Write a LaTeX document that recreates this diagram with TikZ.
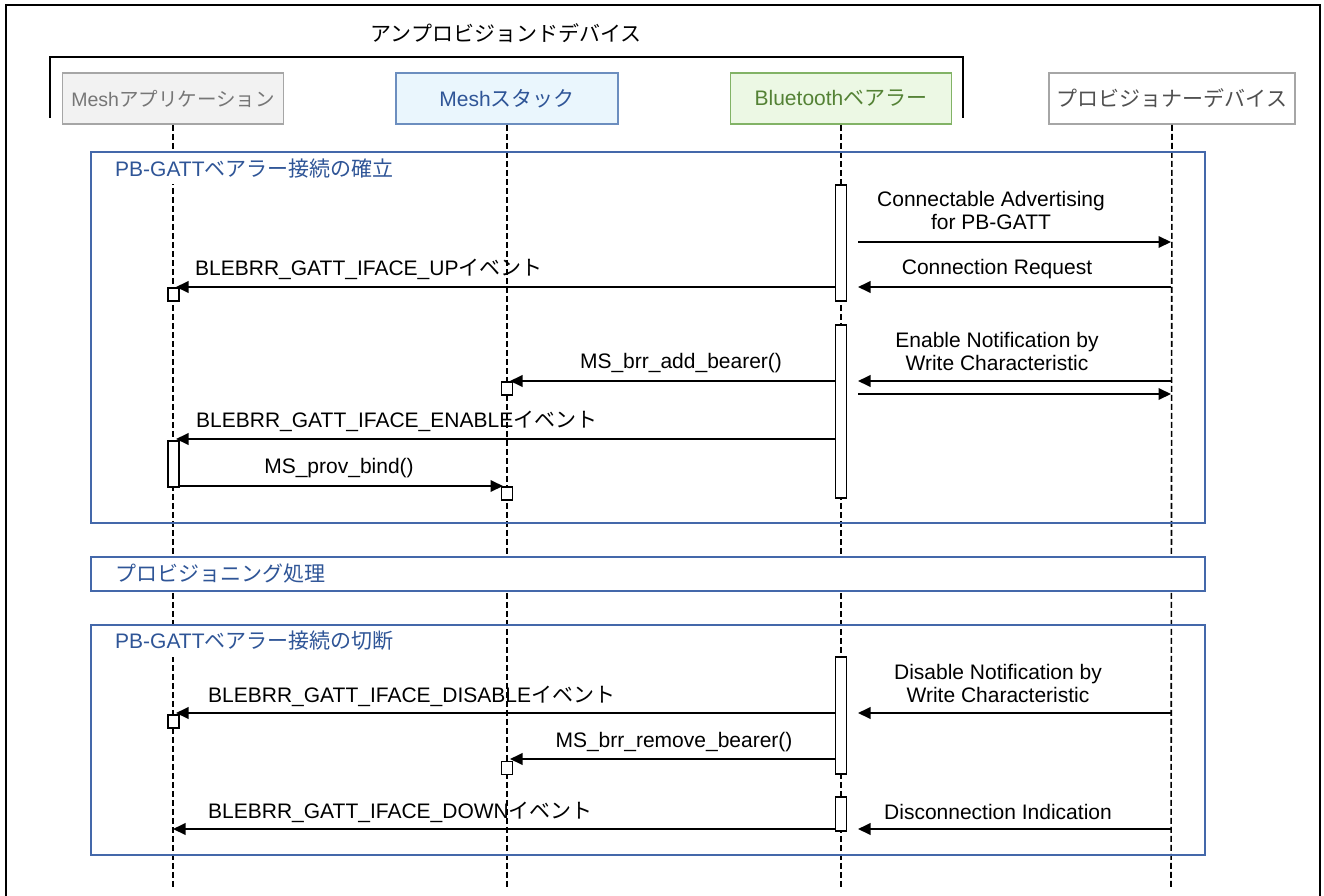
\documentclass[tikz,border=0pt]{standalone}
\usepackage{fontspec}
\setmainfont{Liberation Sans}
\newfontfamily\jpfont{Noto Sans CJK JP}
\newcommand{\jp}[1]{{\jpfont #1}}
\usetikzlibrary{arrows.meta}
\definecolor{grpblue}{RGB}{68,104,170}
\definecolor{ttlblue}{RGB}{47,85,151}
\definecolor{appfill}{RGB}{242,242,242}
\definecolor{appdraw}{RGB}{166,166,166}
\definecolor{apptext}{RGB}{118,118,118}
\definecolor{stkfill}{RGB}{234,246,253}
\definecolor{stkdraw}{RGB}{108,142,191}
\definecolor{stktext}{RGB}{47,85,151}
\definecolor{btfill}{RGB}{236,248,228}
\definecolor{btdraw}{RGB}{130,179,102}
\definecolor{bttext}{RGB}{84,130,53}
\definecolor{pvtext}{RGB}{80,80,80}
\tikzset{
  head/.style={draw, line width=1.8pt, minimum height=51pt, inner sep=0pt},
  life/.style={line width=1.6pt, dash pattern=on 6pt off 3pt},
  grp/.style={draw=grpblue, line width=2pt},
  grptitle/.style={fill=white, text=ttlblue, inner xsep=22pt, inner ysep=0pt, minimum height=31pt, anchor=west},
  actbar/.style={draw, fill=white, line width=1.8pt, minimum width=11pt, inner sep=0pt},
  msg/.style={line width=1.9pt, -{Triangle[length=12.5pt,width=11.5pt]}},
  lbl/.style={inner sep=0pt, align=center},
}
\begin{document}
\begin{tikzpicture}[x=1pt,y=-1pt,font=\fontsize{21}{23}\selectfont]
\useasboundingbox (0,0) rectangle (1324,896);
% outer frame
\coordinate (fr1) at (6,900);
\coordinate (fr2) at (6,5);
\coordinate (fr3) at (1320,5);
\coordinate (fr4) at (1320,900);
\draw[line width=2.4pt] (fr1) -- (fr2) -- (fr3) -- (fr4);
% bracket for unprovisioned device
\node (dev) at (506,33) {\jp{アンプロビジョンドデバイス}};
\coordinate (br1) at (50,118);
\coordinate (br2) at (50,57);
\coordinate (br3) at (963,57);
\coordinate (br4) at (963,118);
\draw[line width=2.8pt] (br1) -- (br2) -- (br3) -- (br4);
% heads
\node[head, fill=appfill, draw=appdraw, text=apptext, minimum width=221pt, font=\fontsize{19.5}{23}\selectfont] (ma) at (173,98.5) {Mesh\jp{アプリケーション}};
\node[head, fill=stkfill, draw=stkdraw, text=stktext, minimum width=222pt] (ms) at (507,98.5) {Mesh\jp{スタック}};
\node[head, fill=btfill, draw=btdraw, text=bttext, minimum width=221pt] (bt) at (841,98.5) {Bluetooth\jp{ベアラー}};
\node[head, fill=white, draw=appdraw, text=pvtext, minimum width=246pt] (pv) at (1172,98.5) {\jp{プロビジョナーデバイス}};
% lifelines
\coordinate (ma-e) at (173,888);
\coordinate (ms-e) at (507,888);
\coordinate (bt-e) at (841,888);
\coordinate (pv-e) at (1171,888);
\draw[life] (ma) -- (ma-e);
\draw[life] (ms) -- (ms-e);
\draw[life] (bt) -- (bt-e);
\draw[life] (pv) -- (pv-e);
% groups
\draw[grp] (91,152) rectangle (1205,523);
\node[grptitle] (g1t) at (93,169) {PB-GATT\jp{ベアラー接続の確立}};
\draw[grp, fill=white] (91,557) rectangle (1205,591);
\node[grptitle, fill=none] (g2t) at (93,574) {\jp{プロビジョニング処理}};
\draw[grp] (91,625) rectangle (1205,855);
\node[grptitle] (g3t) at (93,641) {PB-GATT\jp{ベアラー接続の切断}};
% activation bars on bearer
\node[actbar, minimum height=116pt] (b1) at (841,243) {};
\node[actbar, minimum height=173pt] (b2) at (841,411.5) {};
\node[actbar, minimum height=117pt] (b3) at (841,715.5) {};
\node[actbar, minimum height=34pt] (b4) at (841,814) {};
% small activations
\node[actbar, minimum height=13pt] (s1) at (173.5,294.5) {};
\node[actbar, minimum height=13pt] (s2) at (507,388.5) {};
\node[actbar, minimum height=46pt] (s3) at (173.5,464) {};
\node[actbar, minimum height=13pt] (s4) at (507,493.5) {};
\node[actbar, minimum height=13pt] (s5) at (173.5,721.5) {};
\node[actbar, minimum height=13pt] (s6) at (507,768) {};
% message end points
\coordinate (m1a) at (858,242);  \coordinate (m1b) at (1171,242);
\coordinate (m2a) at (1171,287); \coordinate (m2b) at (858,287);
\coordinate (m3a) at (835,287);  \coordinate (m3b) at (176,287);
\coordinate (m4a) at (1171,381); \coordinate (m4b) at (858,381);
\coordinate (m5a) at (858,394);  \coordinate (m5b) at (1171,394);
\coordinate (m6a) at (835,381);  \coordinate (m6b) at (510,381);
\coordinate (m7a) at (835,439);  \coordinate (m7b) at (176,439);
\coordinate (m8a) at (179,486);  \coordinate (m8b) at (503,486);
\coordinate (m9a) at (1171,713); \coordinate (m9b) at (858,713);
\coordinate (m10a) at (835,713); \coordinate (m10b) at (176,713);
\coordinate (m11a) at (835,759); \coordinate (m11b) at (510,759);
\coordinate (m12a) at (835,829); \coordinate (m12b) at (173,829);
\coordinate (m13a) at (1171,829); \coordinate (m13b) at (858,829);
\foreach \i in {1,...,13} {\draw[msg] (m\i a) -- (m\i b);}
% labels
\node[lbl] (l1) at (991,210.5) {Connectable Advertising\\for PB-GATT};
\node[lbl] (l2) at (997,269) {Connection Request};
\node[lbl, anchor=west] (l3) at (195,269) {BLEBRR\_GATT\_IFACE\_UP\jp{イベント}};
\node[lbl] (l4) at (997,351) {Enable Notification by\\Write Characteristic};
\node[lbl] (l6) at (681,363) {MS\_brr\_add\_bearer()};
\node[lbl, anchor=west] (l7) at (196,421) {BLEBRR\_GATT\_IFACE\_ENABLE\jp{イベント}};
\node[lbl] (l8) at (339,468) {MS\_prov\_bind()};
\node[lbl] (l9) at (998,683.5) {Disable Notification by\\Write Characteristic};
\node[lbl, anchor=west] (l10) at (208,696) {BLEBRR\_GATT\_IFACE\_DISABLE\jp{イベント}};
\node[lbl] (l11) at (674,742) {MS\_brr\_remove\_bearer()};
\node[lbl, anchor=west] (l12) at (208,812) {BLEBRR\_GATT\_IFACE\_DOWN\jp{イベント}};
\node[lbl] (l13) at (998,812) {Disconnection Indication};
\end{tikzpicture}
\end{document}
